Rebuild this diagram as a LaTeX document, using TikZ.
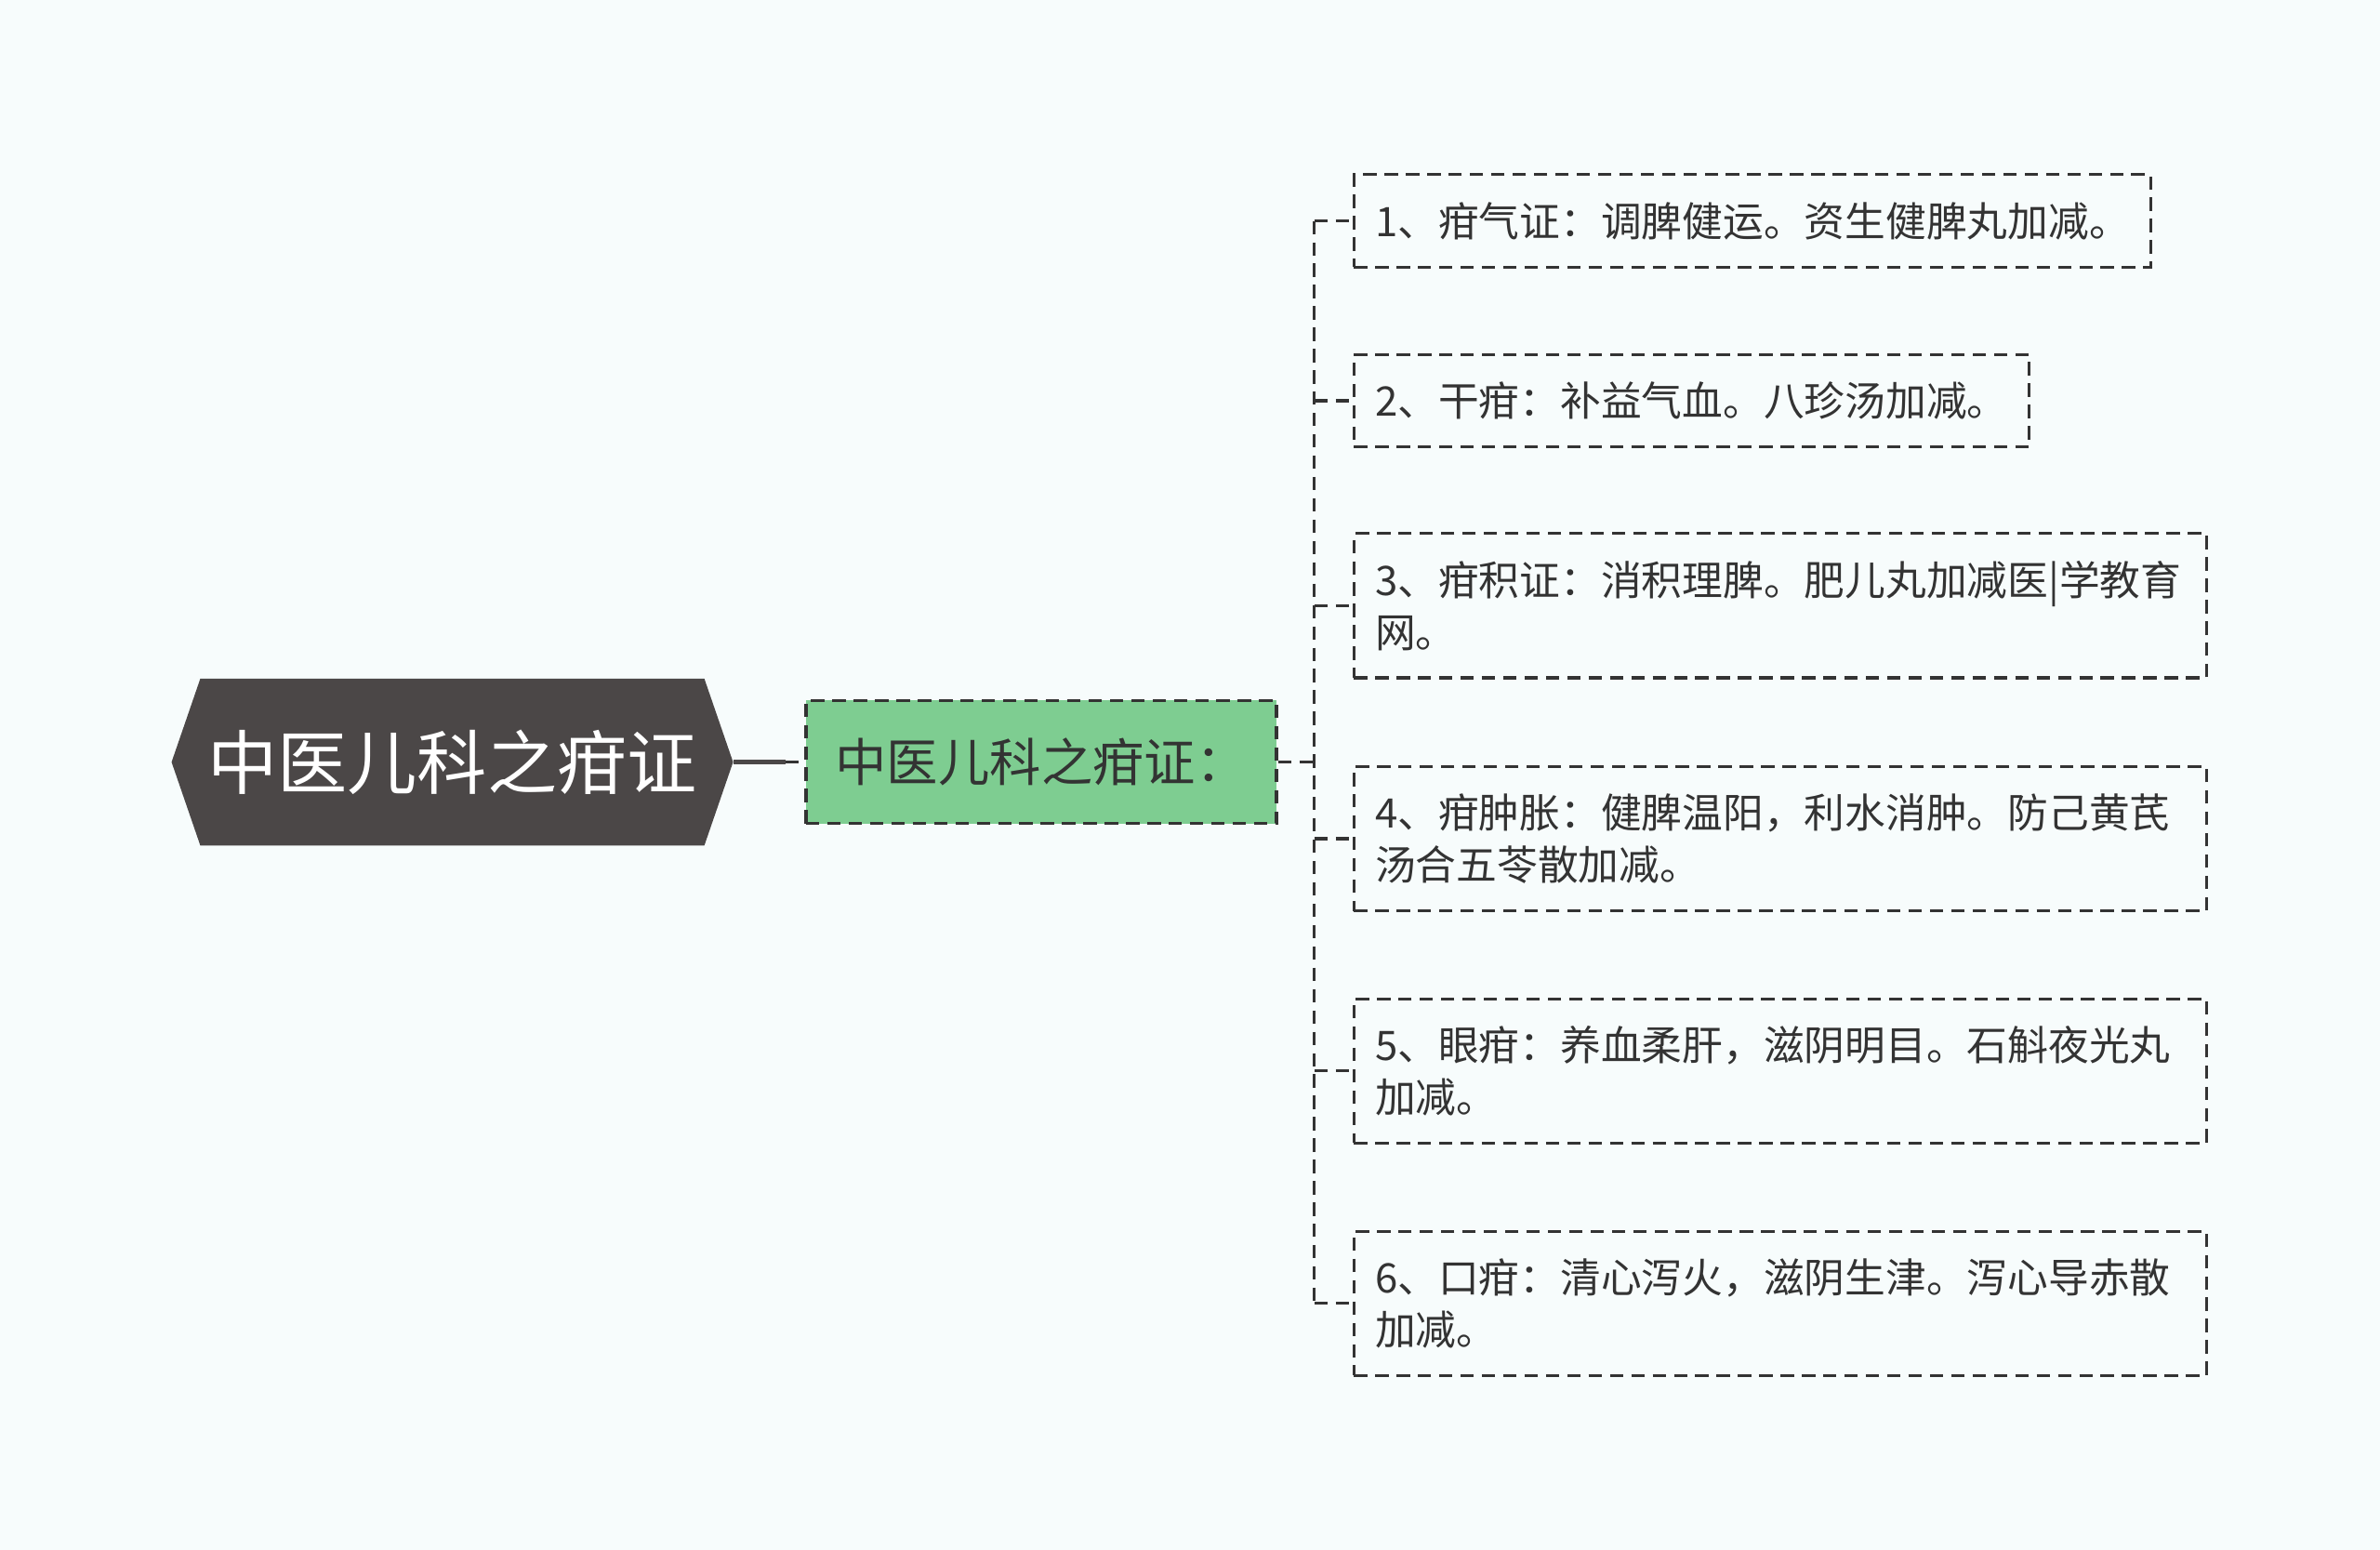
\documentclass[tikz,border=0pt]{standalone}
\usepackage{fontspec}
\setmainfont{Noto Sans CJK SC}
\usetikzlibrary{shapes.symbols}
\definecolor{bgc}{RGB}{247,252,252}
\definecolor{rootc}{RGB}{75,71,71}
\definecolor{midc}{RGB}{126,205,145}
\definecolor{ink}{RGB}{51,51,51}
\tikzset{
    link/.style={ink,line width=1.1pt,dash pattern=on 5pt off 3pt},
    rootnode/.style={signal,signal to=west and east,signal pointer angle=142,fill=rootc,text=white,
        minimum width=7.4cm,minimum height=2.2cm,inner xsep=0pt,font=\fontsize{26.2}{30}\selectfont},
    midnode/.style={draw=ink,link,fill=midc,text=ink,minimum width=6.2cm,minimum height=1.62cm,
        font=\fontsize{19.3}{22}\selectfont},
    leaf/.style={draw=ink,link,text=ink,anchor=west,align=left,inner xsep=0.28cm,
        minimum height=1.22cm,font=\fontsize{15.25}{19.4}\selectfont},
    leafwide/.style={leaf,text width=10.68cm,minimum height=1.9cm}
}
\begin{document}
\begin{tikzpicture}[x=0.02cm,y=-0.02cm]
\fill[bgc] (0,0) rectangle (1568,1021);
\useasboundingbox (0,0) rectangle (1568,1021);
\node[rootnode] (root) at (298,502) {中医儿科之疳证};
\node[midnode] (mid) at (686,502) {中医儿科之疳证：};
\coordinate (tx) at (866,502);
\node[leaf] (l1) at (891,145.5) {1、疳气证：调脾健运。资生健脾丸加减。};
\node[leaf] (l2) at (891,264) {2、干疳：补益气血。八珍汤加减。};
\node[leafwide] (l3) at (891,399) {3、疳积证：消积理脾。肥儿丸加减医|学教育\\网。};
\node[leafwide] (l4) at (891,552.5) {4、疳肿胀：健脾温阳，利水消肿。防己黄芪\\汤合五苓散加减。};
\node[leafwide] (l5) at (891,705.5) {5、眼疳：养血柔肝，滋阴明目。石斛夜光丸\\加减。};
\node[leafwide] (l6) at (891,858.5) {6、口疳：清心泻火，滋阴生津。泻心导赤散\\加减。};
\draw[rootc,line width=1.7pt] (root.east) -- ++(34,0) coordinate (j0);
\draw[link] (j0) -- (mid.west);
\draw[link] (mid.east) -- (tx);
\draw[link] (l1.west -| tx) -- (l6.west -| tx);
\foreach \i in {1,...,6}
{
    \draw[link] (l\i.west -| tx) -- (l\i.west);
}
\end{tikzpicture}
\end{document}
